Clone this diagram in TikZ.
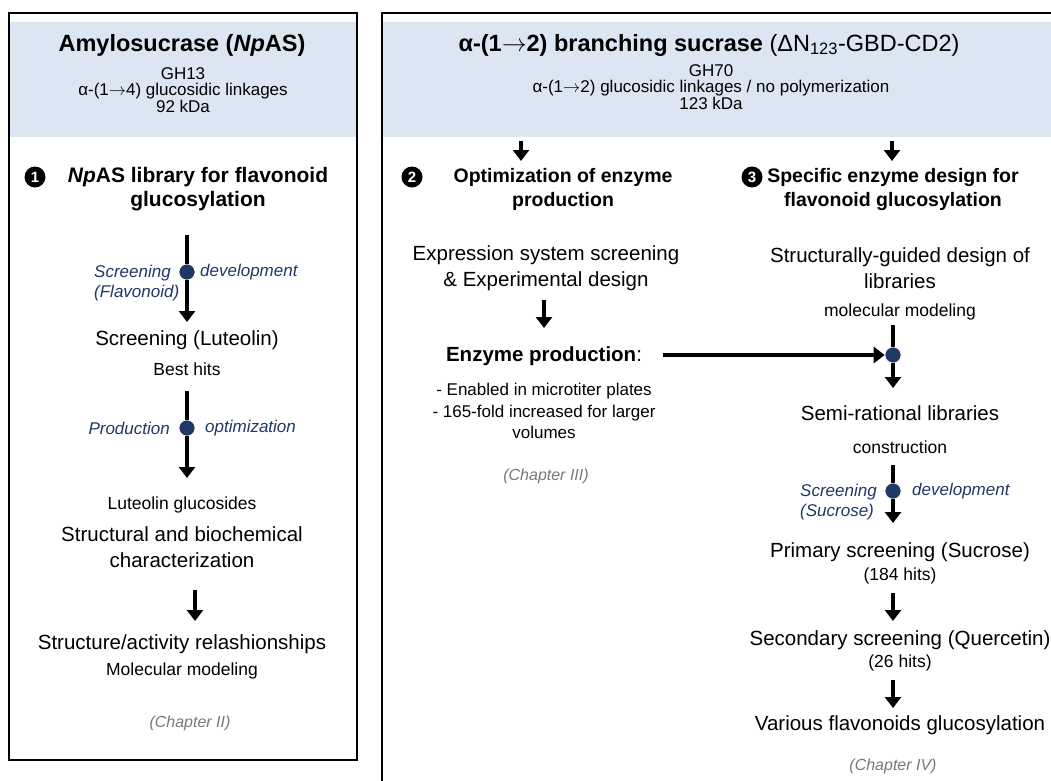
\documentclass[tikz,border=0pt]{standalone}
\usepackage{fontspec}
\setmainfont{Liberation Sans}
\usetikzlibrary{arrows.meta, positioning}

\definecolor{bandblue}{RGB}{220,230,242}
\definecolor{hubblue}{RGB}{31,56,100}
\definecolor{chapgray}{RGB}{120,120,120}

% long arrow inside the linkage names
\newcommand{\lnk}{\ensuremath{\rightarrow}}

\begin{document}
\begin{tikzpicture}[
    x=1pt, y=-1pt,
    panel/.style={draw, line width=2.6pt},
    band/.style={fill=bandblue},
    title/.style={font=\fontsize{23.5}{27}\selectfont\bfseries, inner sep=0pt},
    info/.style={font=\fontsize{17}{16.5}\selectfont, align=center, inner sep=0pt},
    head/.style={font=\fontsize{21}{24}\selectfont\bfseries, align=center, inner sep=0pt},
    headr/.style={font=\fontsize{19.5}{24}\selectfont\bfseries, align=center, inner sep=0pt},
    numdot/.style={circle, fill=black, text=white, inner sep=0pt, minimum size=21pt,
                   font=\fontsize{15}{15}\selectfont\bfseries},
    big/.style={font=\fontsize{20.5}{25.5}\selectfont, align=center, inner sep=0pt},
    small/.style={font=\fontsize{17.5}{21.5}\selectfont, align=center, inner sep=0pt},
    note/.style={font=\fontsize{17}{20}\selectfont\itshape, text=hubblue, align=left, inner sep=0pt},
    chap/.style={font=\fontsize{16}{16}\selectfont\itshape, text=chapgray, inner sep=0pt},
    hub/.style={circle, fill=hubblue, draw=white, line width=0.6pt, minimum size=16pt, inner sep=0pt},
    stem/.style={line width=4pt},
    flow/.style={line width=4pt, -{Triangle[width=16pt, length=11pt]}}
  ]
  \useasboundingbox (0,0) rectangle (1051,780);

  % Panels and header bands
  \fill[band] (10,22) rectangle (356,137);
  \draw[panel] (9,13) rectangle (357,760);
  \fill[band] (383,22) rectangle (1051,137);
  \draw[panel] (382,13) rectangle (1060,790);

  % Left header: amylosucrase
  \node[title] (npas) at (182,45) {Amylosucrase (\textit{Np}AS)};
  \node[info] (npasinfo) at (183,90) {GH13\\α-(1\lnk4) glucosidic linkages\\92 kDa};

  % Right header: branching sucrase
  \node[title] (brs) at (709,45) {α-(1\lnk2) branching sucrase
    {\mdseries\fontsize{23.5}{23.5}\selectfont(ΔN\textsubscript{123}-GBD-CD2)}};
  \node[info] (brsinfo) at (711,87) {GH70\\α-(1\lnk2) glucosidic linkages / no polymerization\\123 kDa};
  \coordinate (h2a) at (521,141);
  \coordinate (h2b) at (521,161);
  \coordinate (h3a) at (892,141);
  \coordinate (h3b) at (892,161);
  \draw[flow] (h2a) -- (h2b);
  \draw[flow] (h3a) -- (h3b);

  % Numbered work packages
  \node[numdot] (num1) at (35,177) {1};
  \node[head] (wp1) at (198,189) {\textit{Np}AS library for flavonoid\\glucosylation};
  \node[numdot] (num2) at (412,177) {2};
  \node[headr] (wp2) at (563,189) {Optimization of enzyme\\production};
  \node[numdot] (num3) at (752,177) {3};
  \node[headr] (wp3) at (893,189) {Specific enzyme design for\\flavonoid glucosylation};

  % Left column
  \coordinate (a1) at (187,235);
  \node[hub] (d1) at (187,272) {};
  \coordinate (b1) at (187,322);
  \draw[stem] (a1) -- (d1);
  \draw[flow] (d1) -- (b1);
  \node[note, anchor=north west] (scrfl) at (94,265) {Screening\\(Flavonoid)};
  \node[note, anchor=west] (dev1) at (200,272) {development};

  \node[big] (lut) at (187,340) {Screening (Luteolin)};
  \node[small] (best) at (187,369) {Best hits};

  \coordinate (a2) at (187,391);
  \node[hub] (d2) at (187,428) {};
  \coordinate (b2) at (187,478);
  \draw[stem] (a2) -- (d2);
  \draw[flow] (d2) -- (b2);
  \node[note, anchor=east] (prodl) at (170,428) {Production};
  \node[note, anchor=west] (optr) at (205,428) {optimization};

  \node[small] (lutg) at (182,505) {Luteolin glucosides};
  \node[big] (charac) at (182,547) {Structural and biochemical\\characterization};
  \coordinate (a3) at (195,590);
  \coordinate (b3) at (195,621);
  \draw[flow] (a3) -- (b3);
  \node[big] (sar) at (182,644) {Structure/activity relashionships};
  \node[small] (molmod) at (182,671) {Molecular modeling};
  \node[chap] (ch2) at (190,723) {(Chapter II)};

  % Middle column: enzyme production
  \node[big] (expr) at (546,268) {Expression system screening\\\& Experimental design};
  \coordinate (a4) at (544,300);
  \coordinate (b4) at (544,328);
  \draw[flow] (a4) -- (b4);
  \node[big] (prod) at (544,356) {\textbf{Enzyme production}:};
  \node[small, font=\fontsize{17}{21.5}\selectfont] (bullets) at (544,411)
    {- Enabled in microtiter plates\\- 165-fold increased for larger\\volumes};
  \node[chap] (ch3) at (546,476) {(Chapter III)};

  % Right column: enzyme design
  \node[big] (struct) at (900,268) {Structurally-guided design of\\libraries};
  \node[small] (mm) at (900,312) {molecular modeling};
  \coordinate (a5) at (893,325);
  \node[hub] (d3) at (893,355) {};
  \coordinate (b5) at (893,388);
  \draw[stem] (a5) -- (d3);
  \draw[flow] (d3) -- (b5);
  \coordinate (hx) at (663,355);
  \draw[flow] (hx) -- (d3);

  \node[big] (semi) at (900,413) {Semi-rational libraries};
  \node[small] (constr) at (900,447) {construction};
  \coordinate (a6) at (893,465);
  \node[hub] (d4) at (893,491) {};
  \coordinate (b6) at (893,523);
  \draw[stem] (a6) -- (d4);
  \draw[flow] (d4) -- (b6);
  \node[note, anchor=north west] (scrsu) at (800,484) {Screening\\(Sucrose)};
  \node[note, anchor=west] (dev2) at (912,491) {development};

  \node[big] (prim) at (900,552) {Primary screening (Sucrose)};
  \node[small] (hits1) at (900,576) {(184 hits)};
  \coordinate (a7) at (893,593);
  \coordinate (b7) at (893,621);
  \draw[flow] (a7) -- (b7);
  \node[big] (sec) at (900,640) {Secondary screening (Quercetin)};
  \node[small] (hits2) at (900,663) {(26 hits)};
  \coordinate (a8) at (893,680);
  \coordinate (b8) at (893,708);
  \draw[flow] (a8) -- (b8);
  \node[big] (various) at (900,725) {Various flavonoids glucosylation};
  \node[chap] (ch4) at (893,766) {(Chapter IV)};
\end{tikzpicture}
\end{document}
